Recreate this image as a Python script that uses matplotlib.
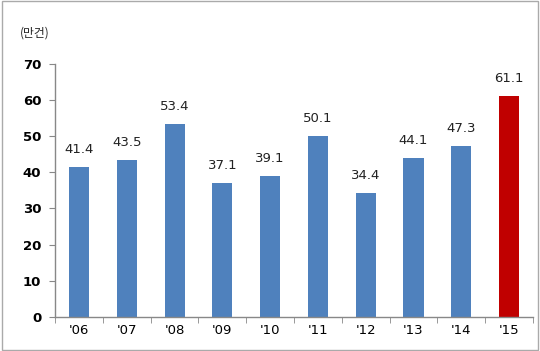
import matplotlib
matplotlib.use("Agg")
import matplotlib.pyplot as plt
from matplotlib.patches import Rectangle
import numpy as np

plt.rcParams['font.family'] = ['DejaVu Sans', 'Noto Sans CJK KR']

years = ["'06", "'07", "'08", "'09", "'10", "'11", "'12", "'13", "'14", "'15"]
values = [41.4, 43.5, 53.4, 37.1, 39.1, 50.1, 34.4, 44.1, 47.3, 61.1]
colors = ['#4F81BD'] * 9 + ['#C00000']

fig = plt.figure(figsize=(5.4, 3.51), dpi=100)
ax = fig.add_axes([0.102, 0.097, 0.885, 0.721])

x = np.arange(len(years))
ax.bar(x, values, width=0.42, color=colors, zorder=2)
for xi, v in zip(x, values):
    ax.text(xi, v + 3.0, f"{v:.1f}", ha='center', va='bottom', fontsize=9.5, color='#222222')

ax.set_xlim(-0.5, len(years) - 0.5)
ax.set_ylim(0, 70)
ax.set_yticks(range(0, 71, 10))
ax.set_yticklabels([str(t) for t in range(0, 71, 10)], fontweight='bold', fontsize=9.5)
ax.set_xticks(x)
ax.set_xticklabels(years, fontsize=9.5)
ax.set_xticks(np.arange(-0.5, len(years), 1), minor=True)
ax.tick_params(axis='x', which='major', length=0, pad=5)
ax.tick_params(axis='x', which='minor', length=4, color='#888888', direction='out')
ax.tick_params(axis='y', length=4, color='#888888', pad=6)

for s in ['top', 'right']:
    ax.spines[s].set_visible(False)
for s in ['left', 'bottom']:
    ax.spines[s].set_color('#888888')
    ax.spines[s].set_linewidth(1)

fig.text(35 / 540, 1 - 33 / 351, "(만건)", ha='center', va='center', fontsize=8.5,
         family=['Noto Sans CJK KR', 'DejaVu Sans'], color='#222222')

fig.patches.append(Rectangle((0.004, 0.004), 0.992, 0.992, transform=fig.transFigure,
                             fill=False, edgecolor='#aaaaaa', linewidth=1))

fig.savefig("out.png", dpi=100)
